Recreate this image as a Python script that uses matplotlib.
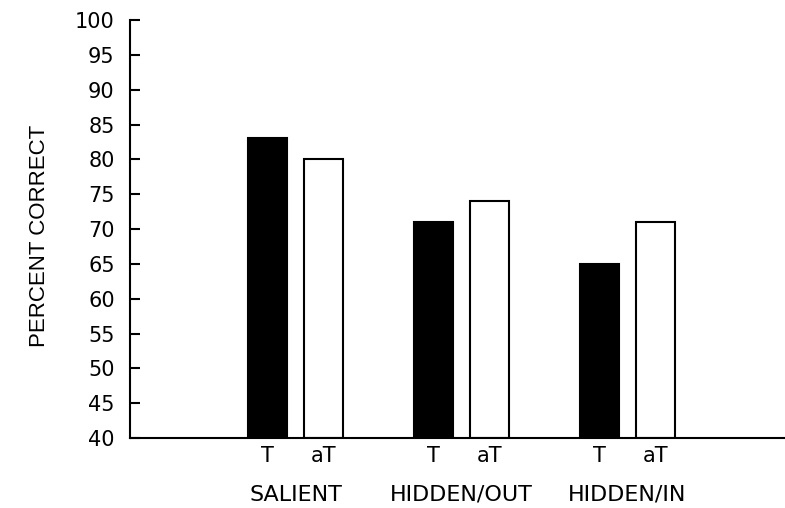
import matplotlib.pyplot as plt
from matplotlib.transforms import blended_transform_factory

plt.rcParams['font.family'] = ['DejaVu Sans']

groups = ['SALIENT', 'HIDDEN/OUT', 'HIDDEN/IN']
t_vals = [83, 71, 65]
at_vals = [80, 74, 71]
bar_labels = ['T', 'aT']
yticks = list(range(40, 101, 5))

fig = plt.figure(figsize=(7.85, 5.08), dpi=100)
ax = fig.add_axes([0.1656, 0.1378, 0.8344, 0.8228])

x = [1, 2, 3]
w = 0.235
off = 0.169
xt = [i - off for i in x]
xa = [i + off for i in x]
ax.bar(xt, [v - 40 for v in t_vals], bottom=40, width=w, color='black',
       edgecolor='black', linewidth=1.5)
ax.bar(xa, [v - 40 for v in at_vals], bottom=40, width=w, color='white',
       edgecolor='black', linewidth=1.5)

ax.set_xlim(0, 3.95)
ax.set_ylim(40, 100)
ax.set_yticks(yticks)
ax.set_xticks([])
ax.tick_params(axis='y', direction='in', length=7, width=1.5, pad=11,
               labelsize=15)
for s in ['top', 'right']:
    ax.spines[s].set_visible(False)
for s in ['left', 'bottom']:
    ax.spines[s].set_linewidth(1.5)

tr = blended_transform_factory(ax.transData, fig.transFigure)
for i in range(len(x)):
    ax.text(xt[i], 1 - 456 / 508, bar_labels[0], transform=tr,
            ha='center', va='center', fontsize=15)
    ax.text(xa[i], 1 - 456 / 508, bar_labels[1], transform=tr,
            ha='center', va='center', fontsize=15)
    ax.text(x[i], 1 - 495 / 508, groups[i], transform=tr,
            ha='center', va='center', fontsize=16)

fig.text(40 / 785, 1 - 236 / 508, 'PERCENT CORRECT', rotation=90,
         ha='center', va='center', fontsize=16, family='Liberation Sans')

fig.savefig('out.png', dpi=100)
